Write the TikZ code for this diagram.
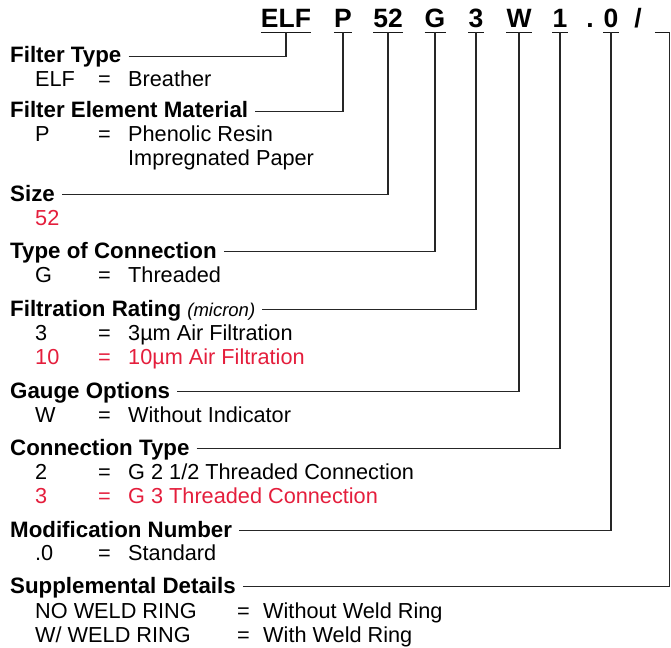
\documentclass[tikz,border=0pt]{standalone}
\usepackage{fontspec}
\setmainfont{Liberation Sans}
\usetikzlibrary{calc}
\definecolor{optred}{RGB}{228,30,60}
\tikzset{
  codech/.style={font=\fontsize{26.5}{30}\selectfont\bfseries, inner xsep=0pt, inner ysep=4pt, anchor=base},
  hdr/.style={font=\fontsize{22.3}{26}\selectfont\bfseries, inner sep=0pt, anchor=base west},
  opt/.style={font=\fontsize{21.7}{24}\selectfont, inner sep=0pt, anchor=base west},
  sel/.style={opt, text=optred},
  uline/.style={line width=1.3pt, draw=black!90},
  lead/.style={line width=1.2pt, draw=black!85},
}
\newcommand{\optrow}[2]{\makebox[63pt][l]{#1}\makebox[30pt][l]{=}#2}
\newcommand{\optrowwide}[2]{\makebox[202pt][l]{#1}\makebox[26pt][l]{=}#2}

\begin{document}
\begin{tikzpicture}[x=1pt, y=-1pt]
\useasboundingbox (0,0) rectangle (671,647);
% ordering code
\node[codech] (celf) at (286,28) {ELF};
\node[codech] (cp) at (343,28) {P};
\node[codech] (c52) at (388,28) {52};
\node[codech] (cg) at (435,28) {G};
\node[codech] (c3) at (476,28) {3};
\node[codech] (cw) at (519,28) {W};
\node[codech] (c1) at (560,28) {1};
\node[codech] (cdot) at (590,28) {.};
\node[codech] (c0) at (611,28) {0};
\node[codech] (cslash) at (638,28) {/};
\node[codech, minimum width=14pt] (cblank) at (662,28) {};
\draw[uline] (celf.south west) -- (celf.south east);
\draw[uline] (cp.south west) -- (cp.south east);
\draw[uline] (c52.south west) -- (c52.south east);
\draw[uline] (cg.south west) -- (cg.south east);
\draw[uline] (c3.south west) -- (c3.south east);
\draw[uline] (cw.south west) -- (cw.south east);
\draw[uline] (c1.south west) -- (c1.south east);
\draw[uline] (c0.south west) -- (c0.south east);
\draw[uline] (cblank.south west) -- (cblank.south east);

% option groups
\node[hdr] (ftype) at (10,63) {Filter Type};
\node[opt] (ftype1) at (35,87) {\optrow{ELF}{Breather}};
\node[hdr] (mat) at (10,118) {Filter Element Material};
\node[opt] (mat1) at (35,142) {\optrow{P}{Phenolic Resin}};
\node[opt] (mat1b) at (128,165) {Impregnated Paper};
\node[hdr] (size) at (10,201) {Size};
\node[sel] (size1) at (35,225) {52};
\node[hdr] (conn) at (10,258) {Type of Connection};
\node[opt] (conn1) at (35,282) {\optrow{G}{Threaded}};
\node[hdr] (rate) at (10,316) {Filtration Rating {\fontsize{18.5}{22}\selectfont\mdseries\itshape(micron)}};
\node[opt] (rate1) at (35,340) {\optrow{3}{3µm Air Filtration}};
\node[sel] (rate2) at (35,364) {\optrow{10}{10µm Air Filtration}};
\node[hdr] (gauge) at (10,398) {Gauge Options};
\node[opt] (gauge1) at (35,422) {\optrow{W}{Without Indicator}};
\node[hdr] (ctype) at (10,455) {Connection Type};
\node[opt] (ctype1) at (35,479) {\optrow{2}{G 2 1/2 Threaded Connection}};
\node[sel] (ctype2) at (35,503) {\optrow{3}{G 3 Threaded Connection}};
\node[hdr] (mod) at (10,537) {Modification Number};
\node[opt] (mod1) at (35,560) {\optrow{.0}{Standard}};
\node[hdr] (supp) at (10,593) {Supplemental Details};
\node[opt] (supp1) at (35,618) {\optrowwide{NO WELD RING}{Without Weld Ring}};
\node[opt] (supp2) at (35,642) {\optrowwide{W/ WELD RING}{With Weld Ring}};

% leaders
\draw[lead] ([shift={(7pt,6.5pt)}]ftype.base east) -| (celf.south);
\draw[lead] ([shift={(7pt,6.5pt)}]mat.base east) -| (cp.south);
\draw[lead] ([shift={(7pt,6.5pt)}]size.base east) -| (c52.south);
\draw[lead] ([shift={(7pt,6.5pt)}]conn.base east) -| (cg.south);
\draw[lead] ([shift={(7pt,6.5pt)}]rate.base east) -| (c3.south);
\draw[lead] ([shift={(7pt,6.5pt)}]gauge.base east) -| (cw.south);
\draw[lead] ([shift={(7pt,6.5pt)}]ctype.base east) -| (c1.south);
\draw[lead] ([shift={(7pt,6.5pt)}]mod.base east) -| (c0.south);
\draw[lead] ([shift={(7pt,6.5pt)}]supp.base east) -| (cblank.south east);
\end{tikzpicture}
\end{document}
